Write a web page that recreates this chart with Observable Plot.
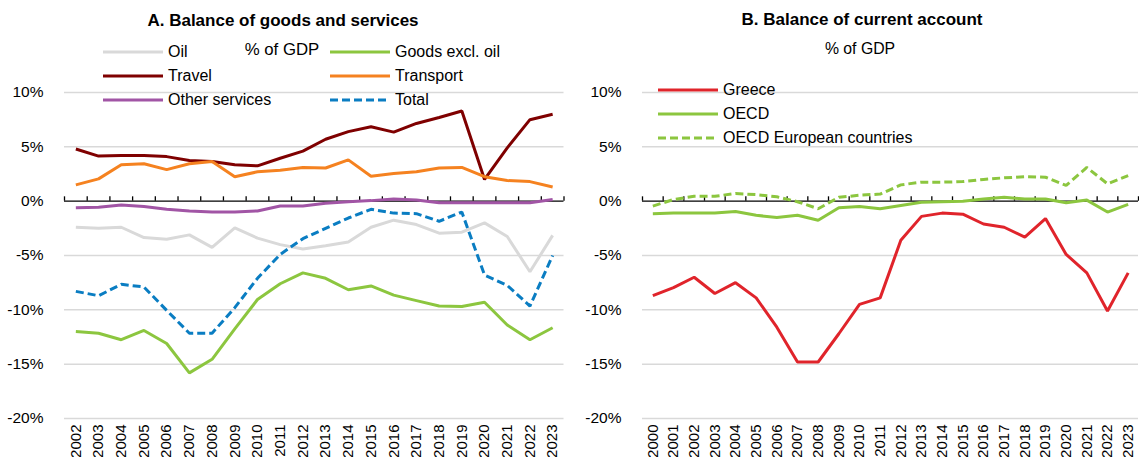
<!DOCTYPE html>
<html>
<head>
<meta charset="utf-8">
<script src="https://cdn.jsdelivr.net/npm/d3@7"></script>
<script src="https://cdn.jsdelivr.net/npm/@observablehq/plot@0.6"></script>
<style>
  html, body { margin: 0; padding: 0; background: #fff; }
  #root { position: relative; width: 1139px; height: 457px; overflow: hidden; color: #000; }
  .panel { position: absolute; top: 0; }
  .title { position: absolute; font-weight: bold; white-space: nowrap; transform: translateX(-50%); line-height: 1; }
  .sub { position: absolute; white-space: nowrap; transform: translateX(-50%); line-height: 1; }
  .leg { position: absolute; white-space: nowrap; display: flex; align-items: center; height: 22px; line-height: 1; }
  .leg svg { margin-right: 5px; flex: none; }
</style>
</head>
<body>
<div id="root"></div>
<script>
// ---------- Data ----------
const yearsA = [2002,2003,2004,2005,2006,2007,2008,2009,2010,2011,2012,2013,2014,2015,2016,2017,2018,2019,2020,2021,2022,2023];
const oil       = [-2.4,-2.5,-2.4,-3.35,-3.5,-3.1,-4.25,-2.45,-3.4,-4.0,-4.4,-4.1,-3.75,-2.4,-1.75,-2.15,-2.95,-2.85,-2.0,-3.25,-6.5,-3.15];
const goodsExOil = [-12.0,-12.15,-12.75,-11.9,-13.1,-15.8,-14.55,-11.75,-9.05,-7.6,-6.6,-7.1,-8.15,-7.8,-8.65,-9.15,-9.65,-9.7,-9.3,-11.4,-12.75,-11.65];
const travel    = [4.8,4.15,4.2,4.2,4.1,3.75,3.65,3.35,3.25,3.95,4.6,5.7,6.4,6.85,6.35,7.15,7.7,8.3,2.0,4.9,7.5,8.0];
const transport = [1.5,2.05,3.35,3.45,2.9,3.45,3.65,2.25,2.7,2.85,3.1,3.05,3.8,2.3,2.55,2.7,3.05,3.1,2.25,1.9,1.8,1.3];
const otherServ = [-0.6,-0.55,-0.35,-0.5,-0.75,-0.9,-1.0,-1.0,-0.9,-0.45,-0.45,-0.2,-0.05,0.05,0.2,0.1,-0.15,-0.15,-0.15,-0.15,-0.15,0.15];
const totalBal  = [-8.3,-8.7,-7.65,-7.9,-10.05,-12.15,-12.15,-9.8,-7.1,-4.9,-3.45,-2.5,-1.55,-0.75,-1.1,-1.15,-1.85,-1.0,-6.8,-7.75,-9.65,-5.0];

const seriesA = ["Oil","Goods excl. oil","Travel","Transport","Other services","Total"];
const valuesA = [oil, goodsExOil, travel, transport, otherServ, totalBal];
const colorsA = ["#d9d9d9","#8cc63f","#7f0000","#f58220","#a155a5","#0a7dc2"];
const dashA   = [null,null,null,null,null,"8,4"];

const yearsB = [2000,2001,2002,2003,2004,2005,2006,2007,2008,2009,2010,2011,2012,2013,2014,2015,2016,2017,2018,2019,2020,2021,2022,2023];
const greece = [-8.7,-7.95,-7.0,-8.5,-7.5,-8.9,-11.6,-14.8,-14.8,-12.2,-9.5,-8.9,-3.6,-1.4,-1.1,-1.2,-2.1,-2.4,-3.3,-1.6,-4.9,-6.6,-10.1,-6.6];
const oecd   = [-1.15,-1.1,-1.1,-1.1,-0.95,-1.3,-1.5,-1.3,-1.75,-0.6,-0.5,-0.7,-0.4,-0.1,-0.05,0,0.2,0.35,0.2,0.2,-0.15,0.1,-1.0,-0.3];
const oecdEu = [-0.45,0.15,0.45,0.45,0.7,0.6,0.4,-0.05,-0.7,0.35,0.55,0.65,1.5,1.75,1.75,1.8,2.0,2.15,2.25,2.2,1.45,3.1,1.6,2.35];

const seriesB = ["Greece","OECD","OECD European countries"];
const valuesB = [greece, oecd, oecdEu];
const colorsB = ["#e0242b","#8cc63f","#8cc63f"];
const dashB   = [null,null,"8,4"];

const yTicks = [-20,-15,-10,-5,0,5,10];
const gridTicks = [-20,-15,-10,-5,5,10];

// ---------- Font detection: prefer a narrow Arial-metric face ----------
function measure(font) {
  const c = document.createElement("canvas").getContext("2d");
  c.font = font; return c.measureText("Other services 2002").width;
}
const narrowOK = Math.abs(measure('20px "Liberation Sans Narrow", monospace') - measure('20px monospace')) > 1;
const FONT = narrowOK ? '"Liberation Sans Narrow", "Arial Narrow", sans-serif' : '"Liberation Sans", Arial, sans-serif';
const SZ = narrowOK
  ? {tick: 19, year: 19, leg: 19.5, subA: 20.5, subB: 19.2, title: 20.5}
  : {tick: 15.5, year: 15, leg: 16, subA: 16.8, subB: 15.8, title: 17};
document.getElementById("root").style.fontFamily = FONT;

function longData(years, names, vals) {
  const out = [];
  names.forEach((n, i) => years.forEach((y, j) => out.push({series: n, year: y, value: vals[i][j]})));
  return out;
}

function makePanel({years, names, vals, colors, dashes, width, marginLeft, marginRight}) {
  const data = longData(years, names, vals);
  const bounds = [years[0] - 0.5, ...years.map(y => y + 0.5)];
  const lineMarks = names.map((n, i) => Plot.line(data.filter(d => d.series === n), {
    x: "year", y: "value", stroke: colors[i], strokeWidth: 3,
    strokeDasharray: dashes[i] || undefined, strokeLinejoin: "miter", strokeLinecap: "butt"
  }));
  return Plot.plot({
    width, height: 457,
    marginLeft, marginRight, marginTop: 92, marginBottom: 39,
    x: {domain: [years[0] - 0.5, years[years.length - 1] + 0.5]},
    y: {domain: [-20, 10]},
    style: {fontFamily: FONT, fontSize: SZ.tick + "px", color: "#000", background: "transparent", overflow: "visible"},
    marks: [
      Plot.gridY(gridTicks, {stroke: "#d9d9d9", strokeOpacity: 1, strokeWidth: 1.5}),
      Plot.axisY(yTicks, {tickSize: 0, tickPadding: 21, tickFormat: d => d + "%", label: null, fontSize: SZ.tick}),
      Plot.axisX(years, {tickSize: 0, tickPadding: 6, tickRotate: -90, tickFormat: d => String(d), label: null, fontSize: SZ.year}),
      Plot.ruleY([0], {stroke: "#000", strokeWidth: 1.3}),
      Plot.ruleX(bounds, {x: d => d, y1: 0, y2: 0.4, stroke: "#000", strokeWidth: 1.3}),
      ...lineMarks
    ]
  });
}

const root = document.getElementById("root");

// Panel A
const pA = makePanel({years: yearsA, names: seriesA, vals: valuesA, colors: colorsA, dashes: dashA, width: 570, marginLeft: 64, marginRight: 6.5});
pA.classList.add("panel"); pA.style.left = "0px";
root.appendChild(pA);

// Panel B
const pB = makePanel({years: yearsB, names: seriesB, vals: valuesB, colors: colorsB, dashes: dashB, width: 569, marginLeft: 72, marginRight: 1});
pB.classList.add("panel"); pB.style.left = "570px";
root.appendChild(pB);

function addText(cls, text, x, y, size) {
  const d = document.createElement("div");
  d.className = cls; d.textContent = text;
  d.style.left = x + "px"; d.style.top = y + "px"; d.style.fontSize = size + "px";
  root.appendChild(d);
}
function addLegend(name, color, dash, x, y) {
  const d = document.createElement("div");
  d.className = "leg";
  d.style.left = x + "px"; d.style.top = (y - 11) + "px"; d.style.fontSize = SZ.leg + "px";
  const svgNS = "http://www.w3.org/2000/svg";
  const s = document.createElementNS(svgNS, "svg");
  s.setAttribute("width", 60); s.setAttribute("height", 6);
  const l = document.createElementNS(svgNS, "line");
  l.setAttribute("x1", 0); l.setAttribute("x2", 60); l.setAttribute("y1", 3); l.setAttribute("y2", 3);
  l.setAttribute("stroke", color); l.setAttribute("stroke-width", 3.2);
  if (dash) l.setAttribute("stroke-dasharray", dash);
  s.appendChild(l);
  d.appendChild(s);
  const t = document.createElement("span"); t.textContent = name;
  d.appendChild(t);
  root.appendChild(d);
}

// Titles
addText("title", "A. Balance of goods and services", 283, 12, SZ.title);
addText("sub", "% of GDP", 282, 42, SZ.subA);
addText("title", "B. Balance of current account", 862, 11, SZ.title);
addText("sub", "% of GDP", 860, 41, SZ.subB);

// Legend A: two columns, three rows
const colX = [103, 330];
const rowY = [52, 76, 100];
seriesA.forEach((n, i) => addLegend(n, colorsA[i], dashA[i], colX[i % 2], rowY[Math.floor(i / 2)]));

// Legend B
const rowYB = [90, 114, 138];
seriesB.forEach((n, i) => addLegend(n, colorsB[i], dashB[i], 658, rowYB[i]));
</script>
</body>
</html>
